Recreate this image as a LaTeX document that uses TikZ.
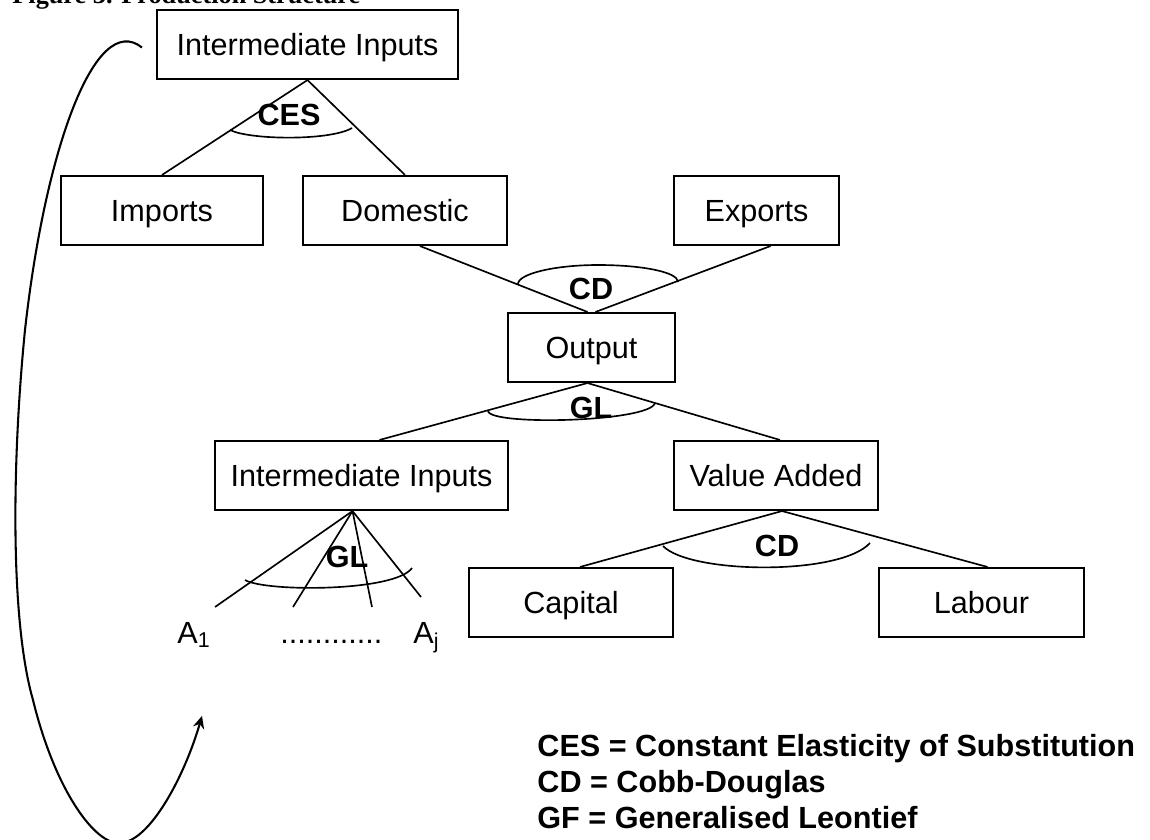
\documentclass[tikz,border=0pt]{standalone}
\usepackage{fontspec}
\setmainfont{Liberation Sans}
\newfontfamily\titlefont{Liberation Serif}
\usetikzlibrary{arrows.meta, positioning, calc}

\begin{document}
\begin{tikzpicture}[
    x=0.017cm, y=-0.017cm,
    box/.style={rectangle, draw, line width=1pt, minimum height=1.173cm,
                inner sep=0pt, align=center, text height=13.3pt, text depth=2.7pt,
                font=\fontsize{14.8}{17}\selectfont},
    lbl/.style={inner sep=0pt, font=\fontsize{14.8}{17}\selectfont\bfseries},
    txt/.style={inner sep=0pt, font=\fontsize{14.8}{17}\selectfont},
    link/.style={draw, line width=0.8pt},
    feedback/.style={draw, line width=1pt, -{Stealth[length=6pt, width=5.5pt]}}
  ]
  \useasboundingbox (0,0) rectangle (1150,839);

  % Title (cut at the top edge)
  \node[anchor=base west, inner sep=0pt, font=\titlefont\fontsize{12.7}{15}\selectfont\bfseries]
        (title) at (12,4) {Figure 3. Production Structure};

  % Nodes
  \node[box, minimum width=5.117cm] (topii) at (307.5,44.5) {Intermediate Inputs};
  \node[box, minimum width=3.434cm] (imp) at (162,210.5) {Imports};
  \node[box, minimum width=3.468cm] (dom) at (405,210.5) {Domestic};
  \node[box, minimum width=2.805cm] (exp) at (756.5,210.5) {Exports};
  \node[box, minimum width=2.839cm] (out) at (591.5,347.5) {Output};
  \node[box, minimum width=4.981cm] (midii) at (361.5,475.5) {Intermediate Inputs};
  \node[box, minimum width=3.468cm] (va) at (776,475.5) {Value Added};
  \node[box, minimum width=3.468cm] (cap) at (571,602.5) {Capital};
  \node[box, minimum width=3.485cm] (lab) at (981.5,602.5) {Labour};

  % Commodities under the GL nest
  \node[txt, anchor=base west] (a1) at (177,643) {A\textsubscript{1}};
  \node[txt, anchor=base west] (dots) at (280,643) {............};
  \node[txt, anchor=base west] (aj) at (413,643) {A\textsubscript{j}};
  \coordinate (f1) at (215,607);
  \coordinate (f2) at (293,607);
  \coordinate (f3) at (372,607);
  \coordinate (f4) at (421,597);

  % Function labels
  \node[lbl] (ces) at (289,115) {CES};
  \node[lbl] (cdtop) at (591,289) {CD};
  \node[lbl] (gltop) at (591,408) {GL};
  \node[lbl] (glfan) at (347,557) {GL};
  \node[lbl] (cdva) at (777,546) {CD};

  % Links
  \draw[link] (topii.south) -- (imp.north);
  \draw[link] (topii.south) -- (dom.north);
  \draw[link] ([shift={(15,0)}]dom.south) -- ([shift={(-4,0)}]out.north);
  \draw[link] ([shift={(14,0)}]exp.south) -- ([shift={(4,0)}]out.north);
  \draw[link] ([shift={(-4,0)}]out.south) -- ([shift={(18,0)}]midii.north);
  \draw[link] ([shift={(-4,0)}]out.south) -- ([shift={(4,0)}]va.north);
  \draw[link] ([shift={(6,0)}]va.south) -- ([shift={(9,0)}]cap.north);
  \draw[link] ([shift={(6,0)}]va.south) -- ([shift={(6,0)}]lab.north);
  \foreach \f in {f1,f2,f3,f4}
    \draw[link] ([shift={(-9,0)}]midii.south) -- (\f);

  % Nest arcs
  \draw[link] (230,130) .. controls (250,140) and (330,141) .. (352,128);
  \draw[link] (518,284) .. controls (518,274) and (554,265) .. (598,265)
              .. controls (642,265) and (678,272) .. (678,282);
  \draw[link] (488,411) .. controls (490,426) and (650,422) .. (655,403);
  \draw[link] (245,580) .. controls (265,592) and (395,592) .. (412,568);
  \draw[link] (663,546) .. controls (690,574) and (840,576) .. (870,543);

  % Feedback loop
  \draw[feedback] ([shift={(-14,3)}]topii.west)
        .. controls (95,10) and (45,150) .. (25,330)
        .. controls (12,460) and (10,620) .. (33,700)
        .. controls (55,790) and (95,845) .. (120,843)
        .. controls (150,842) and (185,775) .. ([shift={(25,68)}]a1.south west);

  % Legend
  \node[lbl, anchor=base west] (leg1) at (537,756) {CES = Constant Elasticity of Substitution};
  \node[lbl, anchor=base west] (leg2) at (537,792) {CD = Cobb-Douglas};
  \node[lbl, anchor=base west] (leg3) at (537,828) {GF = Generalised Leontief};
\end{tikzpicture}
\end{document}
